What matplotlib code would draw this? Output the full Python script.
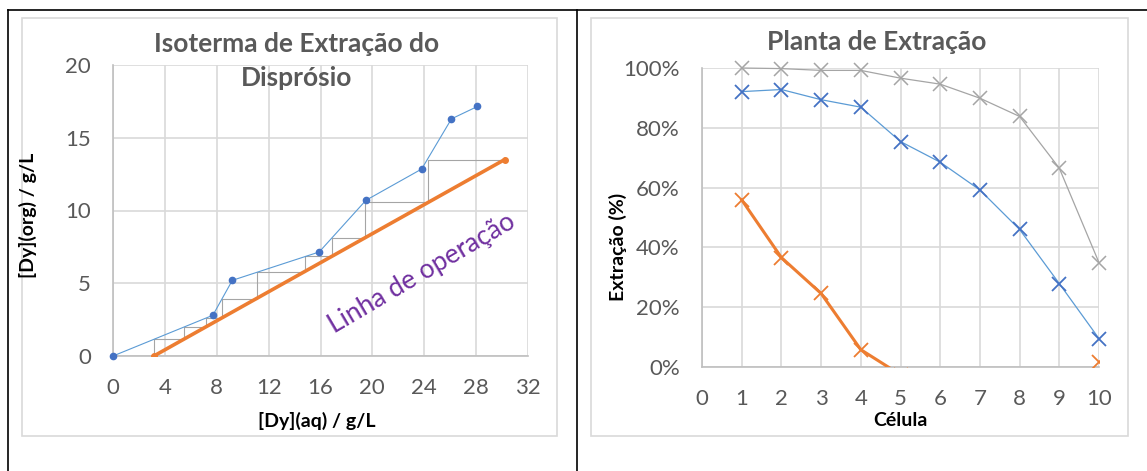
import matplotlib.pyplot as plt
from matplotlib.lines import Line2D
from matplotlib.patches import Rectangle
import numpy as np

# -------------------------
# Data
# -------------------------
# isotherm (blue points)
iso_x = [0, 7.7, 9.2, 15.9, 19.5, 23.8, 26.1, 28.1]
iso_y = [0, 2.8, 5.2, 7.15, 10.7, 12.85, 16.3, 17.15]

# operating line (orange)
op_x = [3.15, 30.2]
op_y = [0, 13.5]

# McCabe-Thiele steps (gray)
step_x = [30.2, 24.3, 24.3, 19.45, 19.45, 16.9, 16.9, 14.8, 14.8, 11.1, 11.1,
          8.4, 8.4, 7.2, 7.2, 5.5, 5.5, 3.15, 3.15, 0]
step_y = [13.5, 13.5, 10.55, 10.55, 8.1, 8.1, 6.85, 6.85, 5.8, 5.8, 3.95,
          3.95, 2.63, 2.63, 2.02, 2.02, 1.17, 1.17, 0, 0]

# extraction plant
celulas = [1, 2, 3, 4, 5, 6, 7, 8, 9, 10]
ext_cinza = [100, 99.8, 99.2, 99.2, 96.6, 94.6, 89.9, 83.8, 66.5, 34.9]
ext_azul = [92.1, 92.8, 89.4, 86.9, 75.4, 68.5, 59.2, 46.0, 27.9, 9.5]
ext_laranja = [55.9, 36.6, 24.6, 5.8, -2.6, np.nan, np.nan, np.nan, np.nan, 1.6]

# -------------------------
# Style
# -------------------------
plt.rcParams['font.family'] = ['Lato', 'DejaVu Sans']
TICK_COLOR = "#595959"
GRID_COLOR = "#D9D9D9"
AXIS_COLOR = "#BFBFBF"
BLUE_LINE = "#5B9BD5"
BLUE_MARK = "#4472C4"
ORANGE = "#ED7D31"
GRAY = "#A5A5A5"
PURPLE = "#7030A0"

W, H = 1147, 471
fig = plt.figure(figsize=(W / 100, H / 100), dpi=100)


def fx(px):
    return px / W


def fy(py):
    return 1 - py / H


# table borders
for seg in [((8, 1147), (10, 10)), ((8, 8), (10, 471)), ((577, 577), (10, 471))]:
    fig.add_artist(Line2D([fx(seg[0][0]), fx(seg[0][1])], [fy(seg[1][0]), fy(seg[1][1])],
                          color="black", lw=1.2))

# chart frames
for x0, x1 in [(22, 557), (591, 1128)]:
    fig.add_artist(Rectangle((fx(x0), fy(436)), fx(x1) - fx(x0), fy(18) - fy(436),
                             fill=False, ec=GRID_COLOR, lw=1.2))


def style_axes(ax):
    ax.grid(True, color=GRID_COLOR, lw=1.2)
    ax.set_axisbelow(True)
    for s in ["top", "right"]:
        ax.spines[s].set_visible(False)
    for s in ["left", "bottom"]:
        ax.spines[s].set_color(AXIS_COLOR)
        ax.spines[s].set_linewidth(1.2)
    ax.tick_params(length=0, colors=TICK_COLOR, labelsize=16, pad=16)


# -------------------------
# Left chart: isotherm
# -------------------------
ax1 = fig.add_axes([fx(113), fy(356), fx(528) - fx(113), fy(65) - fy(356)])
style_axes(ax1)
ax1.set_xlim(0, 32)
ax1.set_ylim(0, 20)
ax1.set_xticks(range(0, 33, 4))
ax1.set_yticks(range(0, 21, 5))

ax1.plot(step_x, step_y, color=GRAY, lw=0.8, zorder=2)
ax1.plot(op_x, op_y, color=ORANGE, lw=2.6, marker="o", ms=4, zorder=3)
ax1.plot(iso_x, iso_y, color=BLUE_LINE, lw=0.8, marker="o", ms=4.5,
         mfc=BLUE_MARK, mec=BLUE_MARK, zorder=4, clip_on=False)

ax1.text(23.8, 5.7, "Linha de operação", color=PURPLE, fontsize=19,
         rotation=30.5, rotation_mode="anchor", ha="center", va="center")

fig.text(fx(297), fy(44), "Isoterma de Extração do", ha="center", va="center",
         fontsize=19, fontweight="bold", color=TICK_COLOR)
fig.text(fx(297), fy(78), "Disprósio", ha="center", va="center",
         fontsize=19, fontweight="bold", color=TICK_COLOR)
fig.text(fx(317), fy(421), "[Dy](aq) / g/L", ha="center", va="center",
         fontsize=14, fontweight="bold")
fig.text(fx(28), fy(215), "[Dy](org) / g/L", ha="center", va="center",
         fontsize=14, fontweight="bold", rotation=90)

# -------------------------
# Right chart: extraction plant
# -------------------------
ax2 = fig.add_axes([fx(702), fy(367), fx(1099) - fx(702), fy(68) - fy(367)])
style_axes(ax2)
ax2.set_xlim(0, 10)
ax2.set_ylim(0, 100)
ax2.set_xticks(range(0, 11))
ax2.set_yticks(range(0, 101, 20))
ax2.set_yticklabels([f"{v}%" for v in range(0, 101, 20)])

ax2.plot(celulas, ext_cinza, color=GRAY, lw=0.9, marker="x", ms=10, mew=1.1,
         zorder=3, clip_on=False)
ax2.plot(celulas, ext_azul, color=BLUE_LINE, lw=0.9, marker="x", ms=10, mew=1.3,
         mec=BLUE_MARK, zorder=4, clip_on=False)
ax2.plot(celulas, ext_laranja, color=ORANGE, lw=2.2, marker="x", ms=10, mew=1.3,
         zorder=5)

fig.text(fx(877), fy(42), "Planta de Extração", ha="center", va="center",
         fontsize=19, fontweight="bold", color=TICK_COLOR)
fig.text(fx(900), fy(420), "Célula", ha="center", va="center",
         fontsize=14, fontweight="bold")
fig.text(fx(618), fy(247), "Extração (%)", ha="center", va="center",
         fontsize=14, fontweight="bold", rotation=90)

fig.savefig("out.png", dpi=100)
